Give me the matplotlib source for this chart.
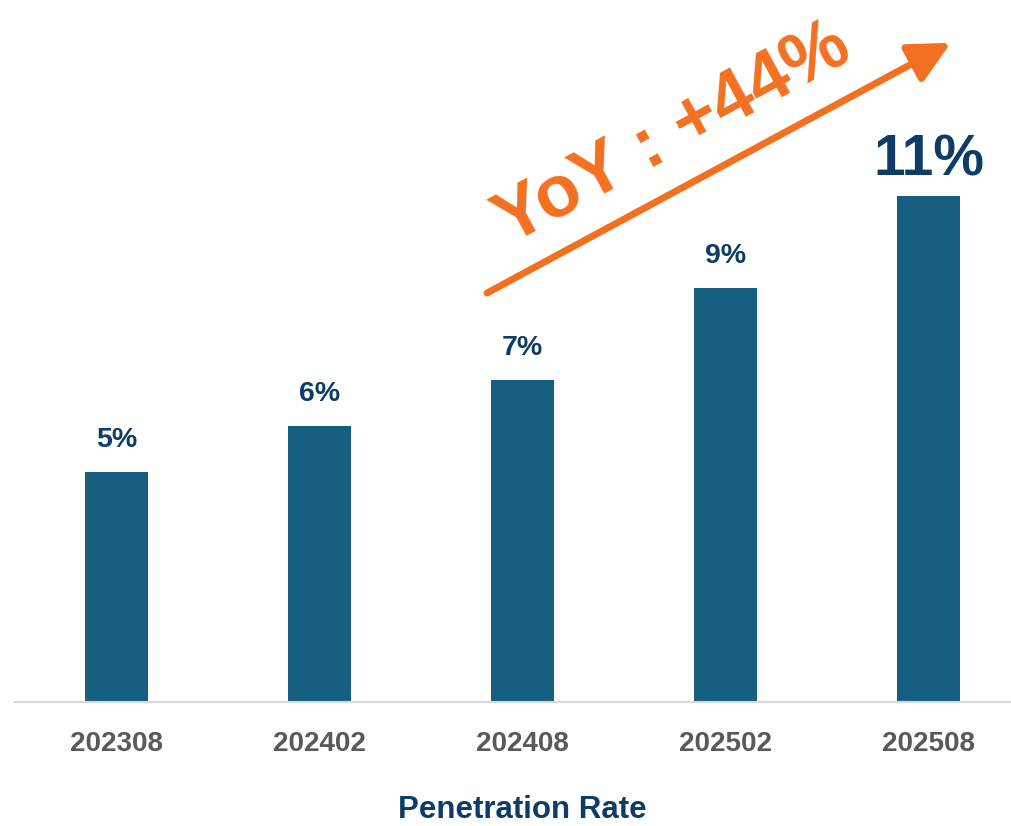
import matplotlib
matplotlib.use('Agg')
import matplotlib.pyplot as plt
from matplotlib.patches import FancyArrowPatch

# ── Data
periods = ['202308', '202402', '202408', '202502', '202508']
rates = [5, 6, 7, 9, 11]
rate_labels = ['5%', '6%', '7%', '9%', '11%']
yoy_text = 'YoY : +44%'
xlabel = 'Penetration Rate'

BAR = '#175f80'
LABEL = '#0d3d66'
GRAY = '#595959'
ORANGE = '#f37021'

plt.rcParams['font.family'] = ['Liberation Sans', 'DejaVu Sans']

fig = plt.figure(figsize=(10.12, 8.26), dpi=100)
W, H = 1012, 826
ax = fig.add_axes([15 / W, (H - 702) / H, 997 / W, 702 / H])

x = list(range(len(periods)))
ax.bar(x, rates, width=0.315, color=BAR)
ax.set_xlim(-0.5, -0.5 + 997 / 203)
ax.set_ylim(0, 702 / 46)

for xi, v, lab in zip(x, rates, rate_labels):
    big = (xi == len(rates) - 1)
    ax.annotate(lab, (xi, v), xytext=(0, 6 if big else 14),
                textcoords='offset points', ha='center', va='bottom',
                fontsize=41 if big else 20.5, fontweight='bold', color=LABEL)

for s in ['top', 'right', 'left']:
    ax.spines[s].set_visible(False)
ax.spines['bottom'].set_color('#d9d9d9')
ax.spines['bottom'].set_linewidth(1.5)
ax.set_yticks([])
ax.set_xticks(x)
ax.set_xticklabels(periods, fontsize=20, fontweight='bold', color=GRAY)
ax.tick_params(axis='x', length=0, pad=21)

ax.text(2, -0.154, xlabel, transform=ax.get_xaxis_transform(),
        ha='center', va='center', fontsize=22.5, fontweight='bold', color=LABEL)

# ── Trend arrow + YoY text
arrow = FancyArrowPatch((1.825, 8.89), (4.11, 14.33),
                        arrowstyle='-|>,head_length=1.4,head_width=0.7',
                        mutation_scale=18, lw=5, color=ORANGE,
                        clip_on=False, shrinkA=0, shrinkB=0)
ax.add_patch(arrow)
ax.text(2.74, 12.35, yoy_text, rotation=28.5, rotation_mode='anchor',
        ha='center', va='center', fontsize=53, fontweight='bold',
        color=ORANGE, clip_on=False)

fig.savefig('out.png', dpi=100)
